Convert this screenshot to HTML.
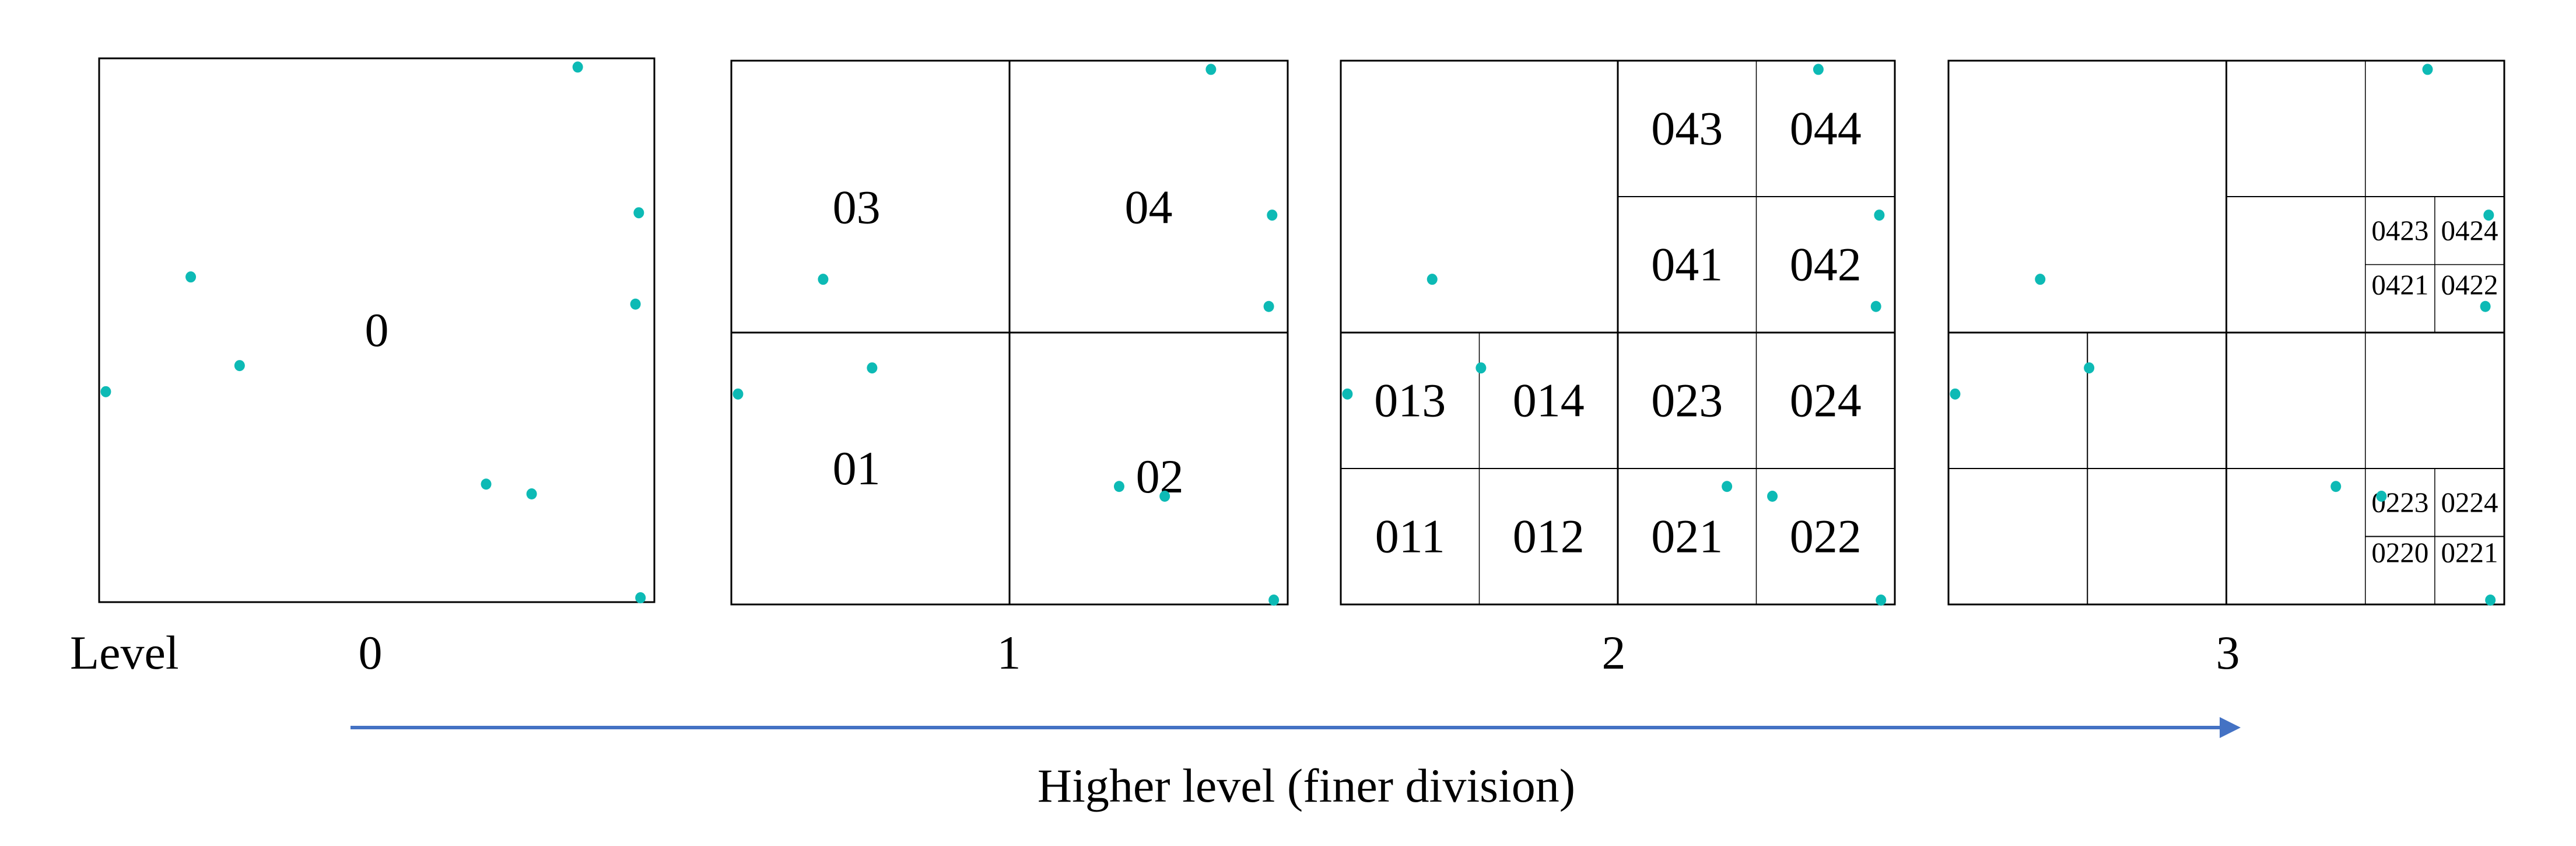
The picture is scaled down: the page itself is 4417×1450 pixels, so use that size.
<!DOCTYPE html>
<html><head><meta charset="utf-8"><style>
html,body{margin:0;padding:0;background:#fff;}
svg{display:block;}
text{font-family:"Liberation Serif",serif;fill:#000;}
</style></head><body>
<svg id="fig" width="4417" height="1450" viewBox="0 0 4417 1450" xmlns="http://www.w3.org/2000/svg">
<defs><marker id="ah" markerWidth="6" markerHeight="6" refX="5" refY="3" orient="auto" markerUnits="strokeWidth"><path d="M0,0 L6,3 L0,6 z" fill="#4472C4"/></marker></defs>
<g id="panels"></g>
<text x="120" y="1146" font-size="82">Level</text>
<line x1="601" y1="1247" x2="3836" y2="1247" stroke="#4472C4" stroke-width="6" marker-end="url(#ah)"/>
<text x="2240" y="1374" font-size="82" text-anchor="middle">Higher level (finer division)</text>
</svg>
<script>
const pointX=[0.862,0.972,0.165,0.966,0.253,0.012,0.697,0.779,0.975];
const pointY=[0.016,0.284,0.402,0.452,0.565,0.613,0.783,0.801,0.992];
const levels=['0','1','2','3'];
const NS='http://www.w3.org/2000/svg';
const P=[[170,100,952,932],[1254,104,954,932],[2299,104,950,932],[3341,104,953,932]];
const g=document.getElementById('panels');
function mk(t,a,par){const e=document.createElementNS(NS,t);for(const k in a)e.setAttribute(k,a[k]);(par||g).appendChild(e);return e;}
const lines=[
 [],
 [[0.5,0,0.5,1,3],[0,0.5,1,0.5,3]],
 [[0.5,0,0.5,1,3],[0,0.5,1,0.5,3],[0.25,0.5,0.25,1,1.5],[0,0.75,0.5,0.75,2],[0.75,0,0.75,1,1.5],[0.5,0.25,1,0.25,2],[0.5,0.75,1,0.75,2]],
 [[0.5,0,0.5,1,3],[0,0.5,1,0.5,3],[0.25,0.5,0.25,1,2],[0,0.75,0.5,0.75,2],[0.75,0,0.75,0.5,1.5],[0.5,0.25,1,0.25,2],[0.75,0.5,0.75,1,1.5],[0.5,0.75,1,0.75,2],
  [0.875,0.25,0.875,0.5,1.5],[0.75,0.375,1,0.375,1.5],[0.875,0.75,0.875,1,1.5],[0.75,0.875,1,0.875,2]]
];
const labels=[
 [['0',0.5,0.5,82]],
 [['03',0.225,0.27,82],['04',0.75,0.27,82],['01',0.225,0.75,82],['02',0.77,0.765,82]],
 [['043',0.625,0.125,82],['044',0.875,0.125,82],['041',0.625,0.375,82],['042',0.875,0.375,82],
  ['013',0.125,0.625,82],['014',0.375,0.625,82],['023',0.625,0.625,82],['024',0.875,0.625,82],
  ['011',0.125,0.875,82],['012',0.375,0.875,82],['021',0.625,0.875,82],['022',0.875,0.875,82]],
 [['0423',0.8125,0.3125,49],['0424',0.9375,0.3125,49],['0421',0.8125,0.4125,49],['0422',0.9375,0.4125,49],
  ['0223',0.8125,0.8125,49],['0224',0.9375,0.8125,49],['0220',0.8125,0.905,49],['0221',0.9375,0.905,49]]
];
P.forEach((p,i)=>{
 const [x,y,w,h]=p;
 const pg=mk('g',{});
 
 
 lines[i].forEach(l=>{
  const ln=mk('line',{x1:x+l[0]*w,y1:y+l[1]*h,x2:x+l[2]*w,y2:y+l[3]*h,stroke:'#000','stroke-width':l[4]},pg);
  
  
 });
 const r=mk('rect',{x:x,y:y,width:w,height:h,fill:'none',stroke:'#000','stroke-width':3},pg);
 
 
 labels[i].forEach(t=>{
  const tx=mk('text',{x:x+t[1]*w,y:y+t[2]*h+t[3]*0.33,'font-size':t[3],'text-anchor':'middle'},pg);
  tx.textContent=t[0];
  
  
 });
 pointX.forEach((px,j)=>{
  const c=mk('ellipse',{cx:x+px*w,cy:y+pointY[j]*h,rx:9,ry:9.5,fill:'#0DBAB5'},pg);
  
  
 });
 const lt=mk('text',{x:[635,1730,2767,3820][i],y:1146,'font-size':82,'text-anchor':'middle'},pg);
 lt.textContent=levels[i];
 
 
});
</script>
</body></html>
